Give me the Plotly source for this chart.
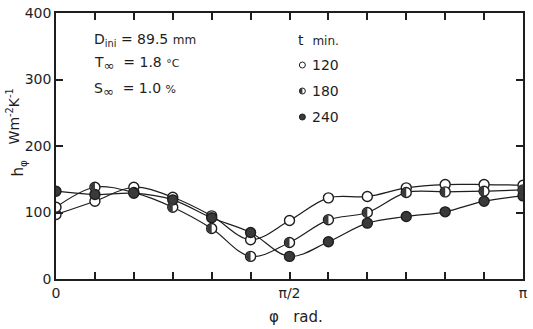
import math
import plotly.graph_objects as go

# Angular positions: every pi/12 from 0 to pi
phi_steps = list(range(13))
phi = [k * math.pi / 12 for k in phi_steps]

# Local heat transfer coefficient h_phi (W m^-2 K^-1) at t = 120, 180, 240 min
h_120 = [97, 117, 138, 123, 95, 59, 88, 122, 124, 137, 142, 142, 141]
h_180 = [108, 138, 130, 108, 76, 34, 55, 89, 100, 130, 131, 132, 134]
h_240 = [132, 127, 129, 119, 92, 70, 34, 56, 84, 94, 101, 117, 125]

times = ["120", "180", "240"]

x_tickvals = [0, math.pi / 2, math.pi]
x_ticktext = ["0", "π/2", "π"]
y_tickvals = [0, 100, 200, 300, 400]
y_ticktext = ["0", "100", "200", "300", "400"]

W, H = 533, 329
M_L, M_R, M_T, M_B = 56, 5, 13, 50
FONT = "DejaVu Sans"
INK = "#1e1e1e"
DARK = "#3a3a3a"


def px_x(p):
    return (p - M_L) / (W - M_L - M_R)


def px_y(p):
    return 1 - (p - M_T) / (H - M_T - M_B)


def half_disc_path(r):
    # left half of a disc, in pixel offsets around the anchor point
    k = 0.5523 * r
    return (f"M0,{r} C{-k},{r} {-r},{k} {-r},0 "
            f"C{-r},{-k} {-k},{-r} 0,{-r} Z")


fig = go.Figure()

series = [h_120, h_180, h_240]

# smooth connecting curves first so all markers sit on top
for h in series:
    fig.add_trace(go.Scatter(
        x=phi, y=h, mode="lines",
        line=dict(color=INK, width=1.2, shape="spline", smoothing=1.0),
        hoverinfo="skip", showlegend=False))

marker_fill = ["white", "white", DARK]
for h, fill, name in zip(series, marker_fill, times):
    fig.add_trace(go.Scatter(
        x=phi, y=h, mode="markers", name=name,
        marker=dict(symbol="circle", size=10, color=fill,
                    line=dict(color=INK, width=1.4)),
        showlegend=False))

shapes = []
# half-filled markers for the 180 min series
for x, y in zip(phi, h_180):
    shapes.append(dict(
        type="path", xref="x", yref="y",
        xsizemode="pixel", ysizemode="pixel",
        xanchor=x, yanchor=y,
        path=half_disc_path(4.6),
        fillcolor=DARK, line=dict(width=0), layer="above"))

# key symbols next to the time labels
key_x = px_x(305)
key_rows = [65, 91, 117]
key_r = 3.0
for i, row in enumerate(key_rows):
    fill = DARK if i == 2 else "white"
    shapes.append(dict(
        type="circle", xref="paper", yref="paper",
        xsizemode="pixel", ysizemode="pixel",
        xanchor=key_x, yanchor=px_y(row),
        x0=-key_r, x1=key_r, y0=-key_r, y1=key_r,
        fillcolor=fill, line=dict(color=INK, width=1.0)))
    if i == 1:
        shapes.append(dict(
            type="path", xref="paper", yref="paper",
            xsizemode="pixel", ysizemode="pixel",
            xanchor=key_x, yanchor=px_y(row),
            path=half_disc_path(key_r),
            fillcolor=DARK, line=dict(width=0)))

annotations = []


def note(text, x, y, size=14, xanchor="left", angle=0):
    annotations.append(dict(
        text=text, xref="paper", yref="paper", x=px_x(x), y=px_y(y),
        xanchor=xanchor, yanchor="middle", showarrow=False,
        textangle=angle, font=dict(family=FONT, size=size, color=INK)))


INF = "<sub><span style='font-size:13px'>∞</span></sub>"
note("D<sub>ini</sub> = 89.5 <span style='font-size:12px'>mm</span>", 92, 40)
note("T" + INF + "  = 1.8 <span style='font-size:11px'>°C</span>", 92, 64)
note("S" + INF + "  = 1.0 <span style='font-size:11px'>%</span>", 92, 89)
note("t  <span style='font-size:12px'>min.</span>", 299, 40)
for label, row in zip(times, key_rows):
    note(label, 313, row)

note("φ   rad.", 299, 317, size=15, xanchor="center")
note("h<sub>φ</sub>", 18, 168, size=15, xanchor="center", angle=-90)
note("Wm<sup>-2</sup>K<sup>-1</sup>", 13, 116, size=14, xanchor="center",
     angle=-90)

axis_common = dict(
    showline=True, linecolor=INK, linewidth=1.6, mirror="allticks",
    ticks="inside", ticklen=7, tickwidth=1.5, tickcolor=INK,
    showgrid=False, zeroline=False,
    tickfont=dict(family=FONT, size=14, color=INK))

fig.update_layout(
    width=W, height=H,
    margin=dict(l=M_L, r=M_R, t=M_T, b=M_B),
    paper_bgcolor="white", plot_bgcolor="white",
    xaxis=dict(range=[0, math.pi], tickmode="array",
               tickvals=x_tickvals, ticktext=x_ticktext,
               minor=dict(tickmode="array", tickvals=phi, ticks="inside",
                          ticklen=7, tickwidth=1.5, tickcolor=INK),
               **axis_common),
    yaxis=dict(range=[0, 400], tickmode="array",
               tickvals=y_tickvals, ticktext=y_ticktext, **axis_common),
    shapes=shapes, annotations=annotations)

fig.write_html("out.html")
